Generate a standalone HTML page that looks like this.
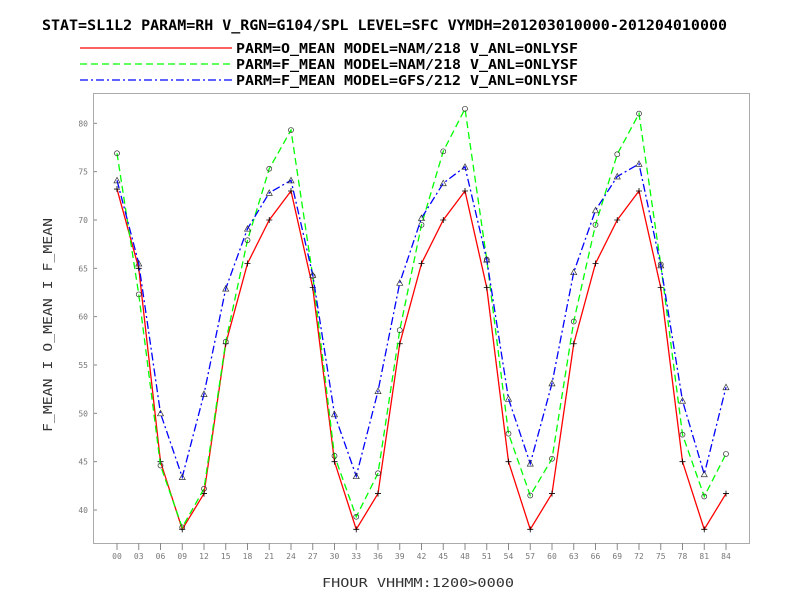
<!DOCTYPE html>
<html><head><meta charset="utf-8"><style>
body{margin:0;background:#fff}
svg{display:block;font-family:"DejaVu Sans Mono","Liberation Mono",monospace}
</style></head><body>
<svg id="c" width="792" height="612">
<text x="42" y="30" textLength="685" lengthAdjust="spacingAndGlyphs" font-size="14" font-weight="bold">STAT=SL1L2 PARAM=RH V_RGN=G104/SPL LEVEL=SFC VYMDH=201203010000-201204010000</text>
<g>
<line x1="80" y1="48" x2="232" y2="48" stroke="#f00" stroke-width="1.3"/>
<text x="236" y="53" textLength="342" lengthAdjust="spacingAndGlyphs" font-size="13" font-weight="bold">PARM=O_MEAN MODEL=NAM/218 V_ANL=ONLYSF</text>
<line x1="80" y1="64" x2="232" y2="64" stroke="#0f0" stroke-width="1.3" stroke-dasharray="7,4"/>
<text x="236" y="69" textLength="342" lengthAdjust="spacingAndGlyphs" font-size="13" font-weight="bold">PARM=F_MEAN MODEL=NAM/218 V_ANL=ONLYSF</text>
<line x1="80" y1="80" x2="232" y2="80" stroke="#00f" stroke-width="1.3" stroke-dasharray="8,3,2,3"/>
<text x="236" y="85" textLength="342" lengthAdjust="spacingAndGlyphs" font-size="13" font-weight="bold">PARM=F_MEAN MODEL=GFS/212 V_ANL=ONLYSF</text>
</g>
<rect x="93.5" y="93.5" width="656" height="450" fill="none" stroke="#aaa"/>
<text transform="translate(52,432) rotate(-90)" textLength="214" lengthAdjust="spacingAndGlyphs" font-size="12" fill="#333">F_MEAN I O_MEAN I F_MEAN</text>
<text x="322" y="587" textLength="192" lengthAdjust="spacingAndGlyphs" font-size="12" fill="#333">FHOUR VHHMM:1200&gt;0000</text>
<g id="g"></g>
</svg>
<script>
const categories=["00","03","06","09","12","15","18","21","24","27","30","33","36","39","42","45","48","51","54","57","60","63","66","69","72","75","78","81","84"];
const oMeanNam=[73.2,65,45,38,41.7,57.2,65.5,70,73,63,45,38,41.7,57.2,65.5,70,73,63,45,38,41.7,57.2,65.5,70,73,63,45,38,41.7];
const fMeanNam=[76.9,62.3,44.6,38.2,42.2,57.4,67.9,75.3,79.3,64.2,45.6,39.3,43.8,58.6,69.5,77.1,81.5,65.9,47.9,41.5,45.3,59.5,69.5,76.8,81,65.4,47.8,41.4,45.8];
const fMeanGfs=[74.1,65.5,50,43.4,52,62.9,69.1,72.8,74.1,64.3,49.9,43.5,52.3,63.5,70.2,73.8,75.5,65.9,51.5,44.8,53.1,64.6,71,74.5,75.8,65.3,51.3,43.7,52.7];
const yTicks=[40,45,50,55,60,65,70,75,80];
const NS="http://www.w3.org/2000/svg",g=document.getElementById('g');
const xS=i=>117+i*(726-117)/(categories.length-1);
const yS=v=>510-(v-40)*(510-123.3)/40;
function mk(t,a){const e=document.createElementNS(NS,t);for(const k in a)e.setAttribute(k,a[k]);g.appendChild(e);return e;}
yTicks.forEach(v=>{
 const l=mk('line',{x1:94,x2:97,y1:yS(v),y2:yS(v),stroke:'#888'});
 
 
 const t=mk('text',{x:88,y:yS(v)+3,'text-anchor':'end','font-size':8,fill:'#777'});t.textContent=v;
 
 
});
categories.forEach((c,i)=>{
 const l=mk('line',{x1:xS(i),x2:xS(i),y1:543,y2:550,stroke:'#888'});
 
 
 const t=mk('text',{x:xS(i),y:559,'text-anchor':'middle','font-size':8,fill:'#777'});t.textContent=c;
 
 
});
function series(vals,color,dash,marker,name){
 const p=mk('polyline',{points:vals.map((v,i)=>xS(i)+','+yS(v)).join(' '),fill:'none',stroke:color,'stroke-width':1.3,'stroke-dasharray':dash});
 
 
 vals.forEach((v,i)=>{
  const x=xS(i),y=yS(v);let m;
  if(marker==='plus')m=mk('path',{d:`M${x-3},${y}h6M${x},${y-3}v6`,stroke:'#000','stroke-width':0.8,fill:'none'});
  else if(marker==='circle')m=mk('circle',{cx:x,cy:y,r:2.5,stroke:'#333','stroke-width':0.7,fill:'none'});
  else m=mk('path',{d:`M${x},${y-3}L${x+3},${y+2.5}L${x-3},${y+2.5}Z`,stroke:'#333','stroke-width':0.7,fill:'none'});
  
  
 });
}
series(oMeanNam,'#f00','none','plus','o-mean-nam');
series(fMeanNam,'#0f0','7,4','circle','f-mean-nam');
series(fMeanGfs,'#00f','8,3,2,3','tri','f-mean-gfs');
</script>
</body></html>
